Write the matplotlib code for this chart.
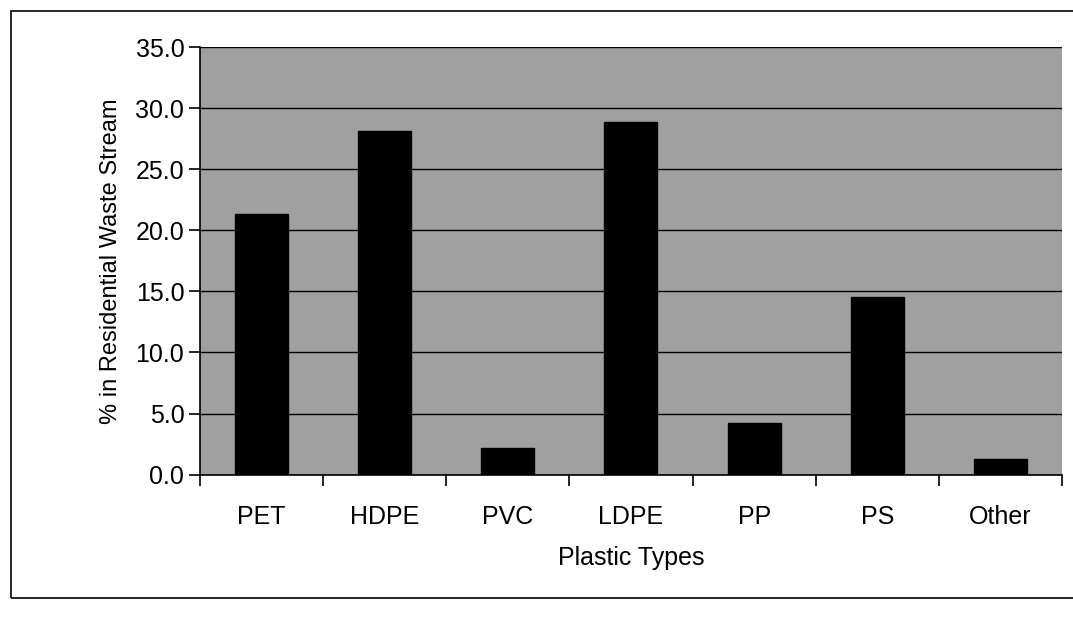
import numpy as np
import matplotlib.pyplot as plt
from matplotlib.patches import Rectangle

# values
plastic_types = ['PET', 'HDPE', 'PVC', 'LDPE', 'PP', 'PS', 'Other']
share_pct = [21.3, 28.1, 2.2, 28.9, 4.2, 14.5, 1.3]
y_ticks = [0, 5, 10, 15, 20, 25, 30, 35]

plt.rcParams['font.family'] = ['Liberation Sans', 'DejaVu Sans']

fig = plt.figure(figsize=(10.73, 6.37), dpi=100)
ax = fig.add_axes([0.186, 0.255, 0.804, 0.671])

# outer chart frame
fig.patches.append(Rectangle((0.010, 0.062), 0.995, 0.92, transform=fig.transFigure,
                             fill=False, edgecolor='black', linewidth=1.2))

x = np.arange(len(plastic_types))
ax.set_facecolor('#a0a0a0')
ax.bar(x, share_pct, width=0.43, color='black', edgecolor='black', zorder=3)

ax.set_ylim(0, 35)
ax.set_xlim(-0.5, len(plastic_types) - 0.5)
ax.set_yticks(y_ticks)
ax.set_yticklabels([f"{v:.1f}" for v in y_ticks], fontsize=18)
ax.yaxis.grid(True, color='black', linewidth=1.0, zorder=1)
ax.set_axisbelow(True)

# category labels centred, tick marks between categories (Excel style)
ax.set_xticks(x)
ax.set_xticklabels(plastic_types, fontsize=18)
ax.tick_params(axis='x', which='major', length=0, pad=22)
ax.set_xticks(np.arange(-0.5, len(plastic_types)), minor=True)
ax.tick_params(axis='x', which='minor', length=8, width=1.2, direction='out')
ax.tick_params(axis='y', length=8, width=1.2, direction='out', pad=3)

for s in ['top', 'right']:
    ax.spines[s].set_visible(False)
ax.spines['left'].set_linewidth(1.2)
ax.spines['bottom'].set_linewidth(1.2)

ax.set_xlabel('Plastic Types', fontsize=18, labelpad=12)
ax.set_ylabel('% in Residential Waste Stream', fontsize=17, labelpad=10)

fig.savefig('out.png', dpi=100)
